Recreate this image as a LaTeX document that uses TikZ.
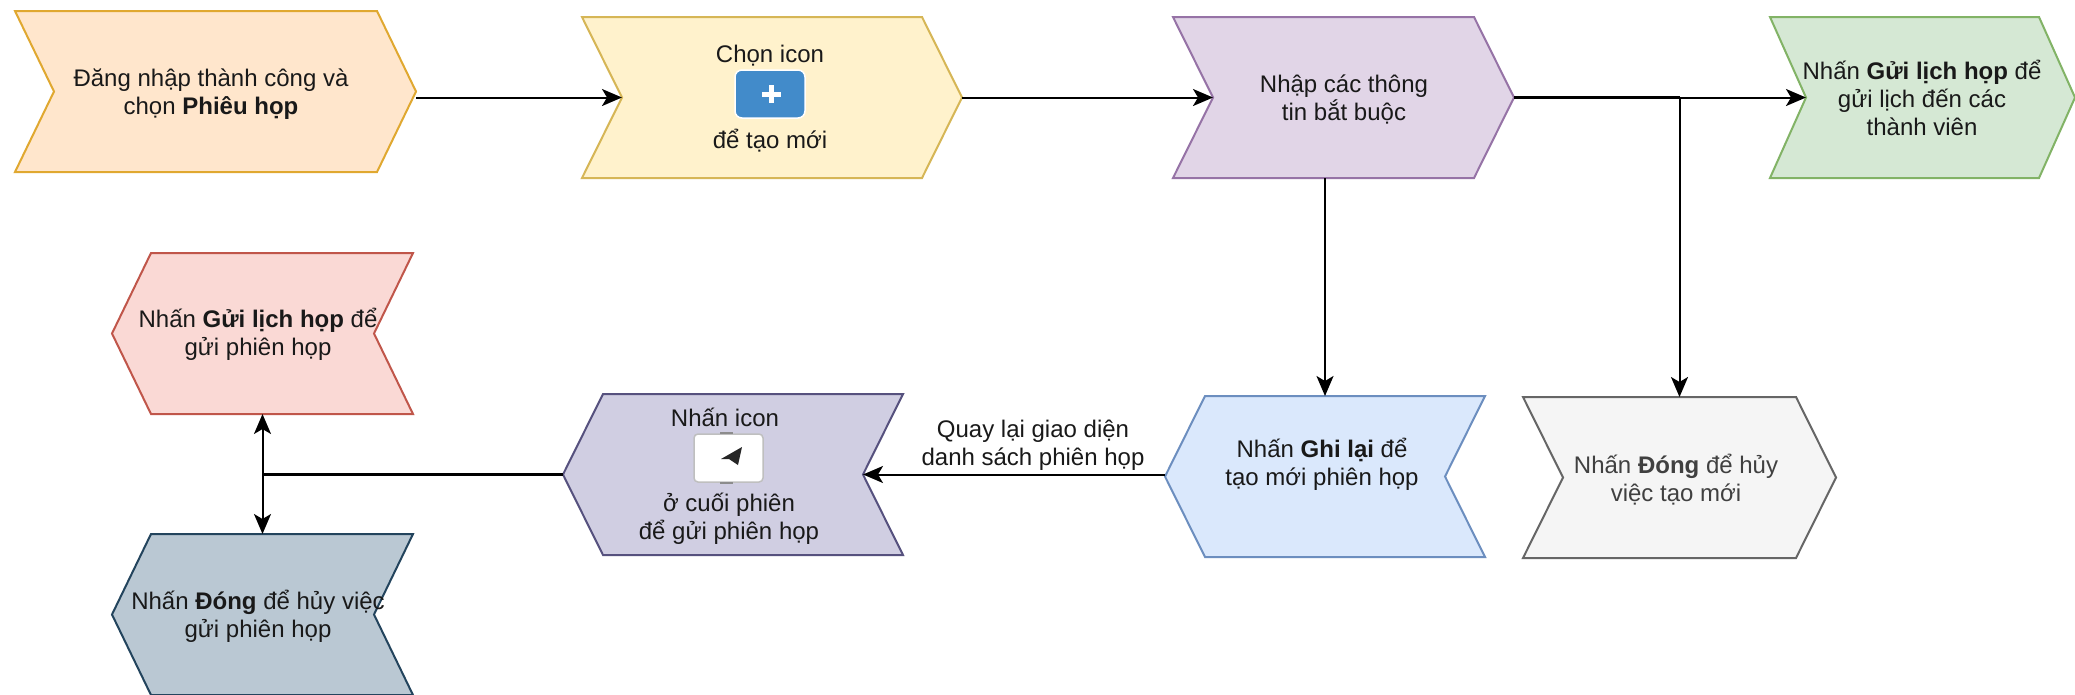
\documentclass[tikz,border=0pt]{standalone}
\usepackage{fontspec}
\setmainfont{Liberation Sans}
\usetikzlibrary{arrows.meta,calc}
\definecolor{f1}{HTML}{FFE6CC}\definecolor{d1}{HTML}{E0A830}
\definecolor{f2}{HTML}{FFF2CC}\definecolor{d2}{HTML}{D6B656}
\definecolor{f3}{HTML}{E1D5E7}\definecolor{d3}{HTML}{9673A6}
\definecolor{f4}{HTML}{D5E8D4}\definecolor{d4}{HTML}{82B366}
\definecolor{f5}{HTML}{DAE8FC}\definecolor{d5}{HTML}{6C8EBF}
\definecolor{f6}{HTML}{F5F5F5}\definecolor{d6}{HTML}{666666}
\definecolor{f7}{HTML}{D0CEE2}\definecolor{d7}{HTML}{56517E}
\definecolor{f8}{HTML}{FAD9D5}\definecolor{d8}{HTML}{C0564A}
\definecolor{f9}{HTML}{BAC8D3}\definecolor{d9}{HTML}{23445D}
\definecolor{iconblue}{HTML}{428BCA}
\tikzset{
  x=1pt,y=-1pt,
  chevbox/.style={inner sep=0pt,outer sep=0pt,rectangle},
  chevline/.style={line width=2pt,line join=miter},
  txt/.style={inner sep=0pt,align=center,text=black!90,font=\fontsize{24}{28}\selectfont},
  conn/.style={line width=2pt,draw=black},
  connarrow/.style={conn,-{Stealth[length=20pt,width=17pt,inset=5pt]}},
  thickconn/.style={line width=3.5pt,draw=black},
}
% name, x0, x1, ytop, ybottom, slant, fill, draw
\newcommand{\chevR}[8]{%
  \pgfmathsetmacro{\ymid}{(#4+#5)/2}%
  \pgfmathsetmacro{\xa}{#3-#6}\pgfmathsetmacro{\xb}{#2+#6}%
  \pgfmathsetmacro{\boxw}{#3-#2}\pgfmathsetmacro{\boxh}{#5-#4}%
  \pgfmathsetmacro{\xm}{(#2+#3)/2}%
  \node[chevbox,minimum width=\boxw pt,minimum height=\boxh pt] (#1) at (\xm,\ymid) {};
  \filldraw[chevline,fill=#7,draw=#8] (#2,#4) -- (\xa,#4) -- (#3,\ymid) -- (\xa,#5) -- (#2,#5) -- (\xb,\ymid) -- cycle;
  \coordinate (#1-tip) at (#3,\ymid);
  \coordinate (#1-notch) at (\xb,\ymid);
}
\newcommand{\chevL}[8]{%
  \pgfmathsetmacro{\ymid}{(#4+#5)/2}%
  \pgfmathsetmacro{\xa}{#3-#6}\pgfmathsetmacro{\xb}{#2+#6}%
  \pgfmathsetmacro{\boxw}{#3-#2}\pgfmathsetmacro{\boxh}{#5-#4}%
  \pgfmathsetmacro{\xm}{(#2+#3)/2}%
  \node[chevbox,minimum width=\boxw pt,minimum height=\boxh pt] (#1) at (\xm,\ymid) {};
  \filldraw[chevline,fill=#7,draw=#8] (\xb,#4) -- (#3,#4) -- (\xa,\ymid) -- (#3,#5) -- (\xb,#5) -- (#2,\ymid) -- cycle;
  \coordinate (#1-tip) at (#2,\ymid);
  \coordinate (#1-notch) at (\xa,\ymid);
}
\begin{document}
\begin{tikzpicture}
\useasboundingbox (0,0) rectangle (2075,694);
\fill[white] (0,0) rectangle (2075,694);

\chevR{s1}{15}{416}{11}{172}{39}{f1}{d1}
\chevR{s2}{582}{962}{17}{178}{40}{f2}{d2}
\chevR{s3}{1173}{1514}{17}{178}{40}{f3}{d3}
\chevR{s4}{1770}{2075}{17}{178}{36}{f4}{d4}
\chevL{s5}{1165}{1485}{396}{557}{40}{f5}{d5}
\chevR{s6}{1523}{1836}{397}{558}{40}{f6}{d6}
\chevL{s7}{563}{903}{394}{555}{40}{f7}{d7}
\chevL{s8}{112}{413}{253}{414}{39}{f8}{d8}
\chevL{s9}{112}{413}{534}{695}{39}{f9}{d9}

% icons
\filldraw[draw=white,line width=1.5pt,fill=iconblue,rounded corners=7pt] (735,70) rectangle (805,118);
\fill[white] (761.5,91.5) rectangle (780.5,96.5);
\fill[white] (768.5,85) rectangle (773.5,103);
\filldraw[draw=black!25,line width=1.5pt,fill=white,rounded corners=4pt] (694,434) rectangle (763,482);
\draw[black!45,line width=1.5pt] (720,433) -- (733,433);
\draw[black!45,line width=1.5pt] (720,483) -- (733,483);
\fill[black!85] (742,447) -- (721,459) -- (729,459) -- (738,465) -- cycle;

% labels
\node[txt] (t1) at (211,94.5) {Đăng nhập thành công và\\chọn \textbf{Phiêu họp}};
\node[txt] (t2a) at (770,56) {Chọn icon};
\node[txt] (t2b) at (770,141) {để tạo mới};
\node[txt] (t3) at (1344,99.5) {Nhập các thông\\tin bắt buộc};
\node[txt] (t4) at (1922,98) {Nhấn \textbf{Gửi lịch họp} để\\gửi lịch đến các\\thành viên};
\node[txt] (t5) at (1322,464.5) {Nhấn \textbf{Ghi lại} để\\tạo mới phiên họp};
\node[txt] (t6) at (1676,480) {\color{black!75}Nhấn \textbf{Đóng} để hủy\\\color{black!75}việc tạo mới};
\node[txt] (t7a) at (725,417) {Nhấn icon};
\node[txt] (t7b) at (729,518.5) {ở cuối phiên\\để gửi phiên họp};
\node[txt] (t8) at (258,334) {Nhấn \textbf{Gửi lịch họp} để\\gửi phiên họp};
\node[txt] (t9) at (258,616) {Nhấn \textbf{Đóng} để hủy việc\\gửi phiên họp};
\node[txt] (t10) at (1033,445.5) {Quay lại giao diện\\danh sách phiên họp};

% connectors
\coordinate (j1) at (s6.north |- s4-notch);
\coordinate (j2) at (s8.south |- s7-tip);
\draw[connarrow] (s1-tip |- s2-notch) -- (s2-notch);
\draw[connarrow] (s2-tip) -- (s3-notch);
\draw[thickconn] (s3-tip) -- (j1);
\draw[connarrow] (j1) -- (s4-notch);
\draw[connarrow] (s3.south -| s5.north) -- (s5.north);
\draw[connarrow] (j1) -- (s6.north);
\draw[connarrow] (s5-tip |- s7-notch) -- (s7-notch);
\draw[thickconn] (s7-tip) -- (j2);
\draw[connarrow] (j2) -- (s8.south);
\draw[connarrow] (j2) -- (s9.north);
\end{tikzpicture}
\end{document}
